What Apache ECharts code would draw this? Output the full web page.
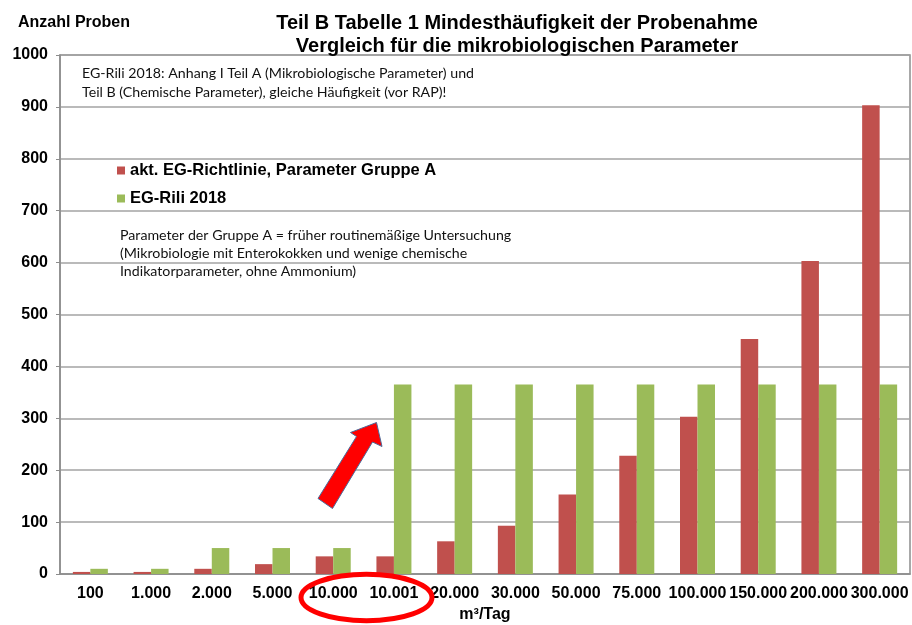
<!doctype html>
<html lang="de">
<head>
<meta charset="UTF-8" />
<title>Mindesthäufigkeit der Probenahme</title>
<script src="https://fastly.jsdelivr.net/npm/echarts@6/dist/echarts.min.js"></script>
<style>
  * { margin: 0; padding: 0; }
  html, body, #chart { width: 912px; height: 625px; overflow: hidden; background: #fff; }
</style>
</head>
<body>
<div id="chart"></div>
<script>
  // m³/Tag classes
  const categories = ['100', '1.000', '2.000', '5.000', '10.000', '10.001', '20.000', '30.000',
    '50.000', '75.000', '100.000', '150.000', '200.000', '300.000'];
  // akt. EG-Richtlinie, Parameter Gruppe A
  const currentDirective = [4, 4, 10, 19, 34, 34, 63, 93, 153, 228, 303, 453, 603, 903];
  // EG-Rili 2018
  const directive2018 = [10, 10, 50, 50, 50, 365, 365, 365, 365, 365, 365, 365, 365, 365];

  const noteTop = [
    'EG-Rili 2018: Anhang I Teil A (Mikrobiologische Parameter) und',
    'Teil B (Chemische Parameter), gleiche Häufigkeit (vor RAP)!'
  ];
  const noteGroup = [
    'Parameter der Gruppe A = früher routinemäßige Untersuchung',
    '(Mikrobiologie mit Enterokokken und wenige chemische',
    'Indikatorparameter, ohne Ammonium)'
  ];

  const bold = 'Liberation Sans, Arial, sans-serif';
  const noteFont = 'Lato, sans-serif';

  const chart = echarts.init(document.getElementById('chart'));
  chart.setOption({
    animation: false,
    title: {
      text: 'Teil B Tabelle 1 Mindesthäufigkeit der Probenahme\nVergleich für die mikrobiologischen Parameter',
      left: 512,
      top: 7,
      textAlign: 'center',
      textStyle: { fontFamily: bold, fontWeight: 'bold', fontSize: 20, lineHeight: 23, color: '#000' }
    },
    legend: {
      orient: 'vertical',
      left: 117,
      top: 162,
      padding: 0,
      itemGap: 11,
      itemWidth: 8,
      itemHeight: 8,
      icon: 'rect',
      textStyle: { fontFamily: bold, fontWeight: 'bold', fontSize: 16.5, color: '#000' }
    },
    grid: {
      left: 60, right: 2, top: 55, bottom: 51,
      outerBoundsMode: 'none',
      containLabel: false,
      show: true, borderColor: '#8c8c8c', borderWidth: 1.5
    },
    xAxis: {
      type: 'category',
      data: categories,
      name: 'm³/Tag',
      nameLocation: 'middle',
      nameGap: 33,
      nameTextStyle: { fontFamily: bold, fontWeight: 'bold', fontSize: 16, color: '#000' },
      axisLine: { lineStyle: { color: '#8c8c8c', width: 1.5 } },
      axisTick: { length: 5, lineStyle: { color: '#8c8c8c', width: 1.5 } },
      axisLabel: { interval: 0, margin: 12, fontFamily: bold, fontWeight: 'bold', fontSize: 16, color: '#000' }
    },
    yAxis: {
      type: 'value',
      min: 0,
      max: 1000,
      interval: 100,
      axisLine: { show: true, lineStyle: { color: '#8c8c8c', width: 1.5 } },
      axisTick: { show: true, length: 4, lineStyle: { color: '#8c8c8c' } },
      splitLine: { lineStyle: { color: '#a3a3a3', width: 1.5 } },
      axisLabel: {
        margin: 12, fontFamily: bold, fontWeight: 'bold', fontSize: 16, color: '#000',
        formatter: (v) => String(v)
      }
    },
    series: [
      {
        name: 'akt. EG-Richtlinie, Parameter Gruppe A',
        type: 'bar',
        data: currentDirective,
        barWidth: 17.5,
        barGap: '0%',
        itemStyle: { color: '#C0504D' }
      },
      {
        name: 'EG-Rili 2018',
        type: 'bar',
        data: directive2018,
        barWidth: 17.5,
        itemStyle: { color: '#9BBB59' }
      }
    ],
    graphic: [
      {
        type: 'text', left: 18, top: 15,
        style: { text: 'Anzahl Proben', font: 'bold 16px ' + bold, fill: '#000' }
      },
      {
        type: 'text', left: 82, top: 64,
        style: { text: noteTop.join('\n'), font: '14.2px ' + noteFont, lineHeight: 19, fill: '#111' }
      },
      {
        type: 'text', left: 120, top: 226,
        style: { text: noteGroup.join('\n'), font: '14.2px ' + noteFont, lineHeight: 18, fill: '#111' }
      },
      {
        // red arrow pointing at the jump at 10.001 m³/Tag
        type: 'polygon', z: 100,
        shape: {
          points: [[376.5, 422.5], [350.5, 432.5], [356.5, 436.5], [318, 498.5],
            [332.5, 508.5], [372.5, 442], [382, 446.5]]
        },
        style: { fill: '#ff0000', stroke: '#4a6a9a', lineWidth: 1 }
      },
      {
        type: 'ellipse', z: 100,
        shape: { cx: 366.5, cy: 597.5, rx: 65.5, ry: 23.2 },
        style: { fill: 'none', stroke: '#ff0000', lineWidth: 5 }
      }
    ]
  });
</script>
</body>
</html>
